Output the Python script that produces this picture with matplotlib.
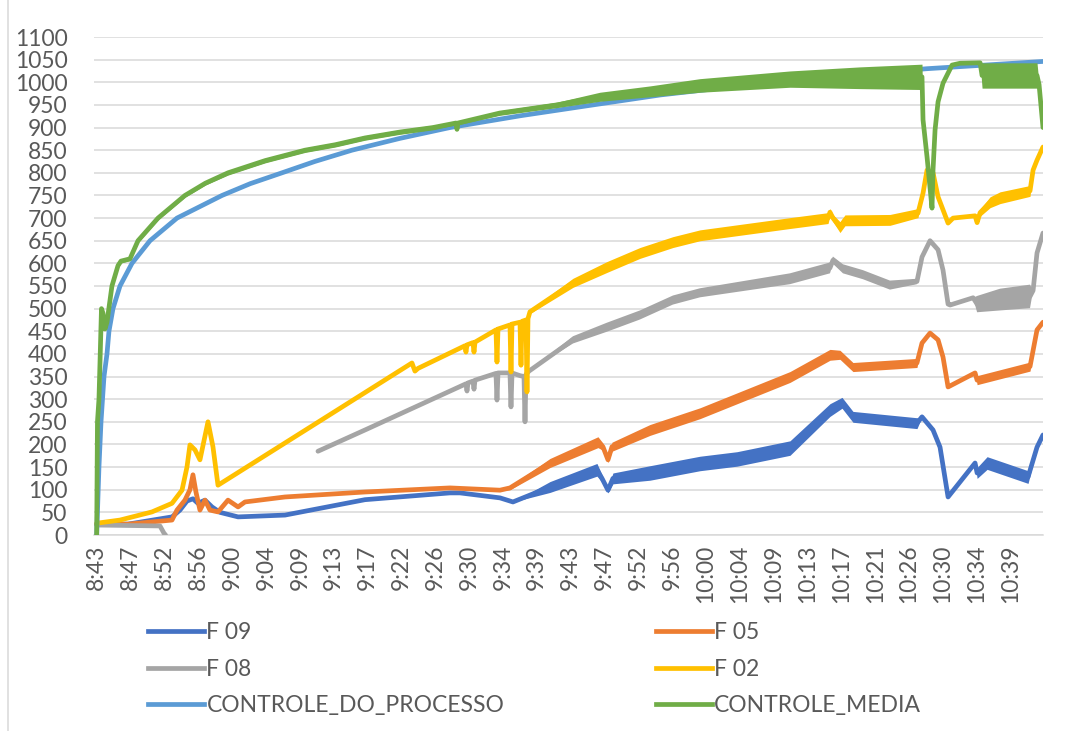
import numpy as np
import matplotlib
matplotlib.use("Agg")
import matplotlib.pyplot as plt
from matplotlib.lines import Line2D

plt.rcParams['font.family'] = ['Lato', 'DejaVu Sans']

# ---- time axis (minutes after 08:43) ----
time_labels = ['8:43', '8:47', '8:52', '8:56', '9:00', '9:04', '9:09', '9:13', '9:17',
               '9:22', '9:26', '9:30', '9:34', '9:39', '9:43', '9:47', '9:52', '9:56',
               '10:00', '10:04', '10:09', '10:13', '10:17', '10:21', '10:26', '10:30',
               '10:34', '10:39']
label_step_min = 4.3

# ---- F 09 ----
f09_t = [0, 3.98, 9.57, 10.58, 11.47, 12.23, 12.86, 13.76, 14.65, 15.66,
         17.96, 23.92, 34.08, 44.88, 46.15, 51.23, 52.88, 57.58, 63.55, 64.19,
         64.95, 65.58, 70.28, 76.64, 81.34, 88.07, 93.15, 94.68, 96.07, 104.20,
         104.84, 106.24, 107.13, 108.15, 111.58, 111.84, 113.11, 118.31, 119.45, 120.21]
f09_v = [24, 24, 40, 55, 75, 80, 70, 77, 62, 50,
         40, 44, 78, 93, 93, 82, 73, 106, 144, 125,
         99, 125, 137, 158, 168, 192, 276, 292, 261, 247,
         261, 232, 194, 84, 159, 137, 159, 128, 194, 221]
f09_jit = [0, 0, 0, 0, 0, 0, 0, 0, 0, 0,
           0, 0, 0, 0, 0, 0, 0, 12, 14, 8,
           6, 12, 16, 16, 16, 16, 14, 12, 12, 12,
           0, 0, 0, 0, 0, 12, 14, 14, 0, 0]

# ---- F 05 ----
f05_t = [0, 3.98, 9.57, 10.20, 11.21, 11.85, 12.23, 12.61, 13.12, 13.76,
         14.39, 15.41, 16.68, 17.96, 18.84, 23.92, 34.08, 44.88, 51.23, 52.50,
         57.58, 63.68, 64.31, 64.95, 65.46, 70.28, 76.64, 88.07, 93.15, 94.42,
         96.07, 104.20, 104.84, 105.86, 106.88, 107.51, 108.15, 111.58, 111.84, 118.56,
         119.45, 120.21]
f05_v = [24, 24, 33, 55, 77, 100, 133, 95, 55, 77,
         55, 51, 77, 62, 73, 84, 95, 104, 99, 104,
         159, 205, 195, 166, 195, 232, 269, 349, 398, 398,
         371, 380, 424, 446, 431, 393, 327, 358, 342, 372,
         453, 470]
f05_jit = [0, 0, 0, 0, 0, 0, 0, 0, 0, 0,
           0, 0, 0, 0, 0, 0, 0, 0, 0, 4,
           10, 12, 8, 6, 10, 12, 12, 12, 12, 10,
           10, 10, 0, 0, 0, 0, 0, 0, 10, 10,
           0, 0]

# ---- F 08 (no readings between 8:53 and 9:11) ----
f08_t = [0, 8.04, 8.55, 8.75, 19.0, 28.11, 34.34, 46.91, 47.04, 47.17,
         47.80, 47.93, 48.06, 50.72, 50.85, 50.98, 52.50, 52.63, 52.76, 53.77,
         54.28, 54.41, 54.54, 54.92, 60.50, 64.82, 69.01, 73.20, 76.64, 88.07,
         93.15, 93.53, 94.80, 97.34, 100.77, 104.20, 104.84, 105.86, 106.88, 107.51,
         108.15, 108.41, 111.33, 111.84, 114.75, 118.56, 118.95, 119.45, 120.21]
f08_v = [22, 20, 4, 0, np.nan, 185, 234, 334, 318, 336,
         340, 322, 342, 357, 298, 358, 358, 283, 358, 352,
         350, 250, 355, 362, 431, 459, 486, 519, 535, 566,
         590, 607, 588, 575, 552, 560, 614, 650, 630, 585,
         510, 508, 524, 510, 520, 527, 540, 623, 667]
f08_jit = [0, 0, 0, 0, 0, 0, 0, 0, 0, 0,
           0, 0, 0, 0, 0, 0, 0, 0, 0, 0,
           0, 0, 0, 0, 8, 10, 10, 10, 10, 12,
           12, 8, 10, 10, 10, 6, 0, 0, 0, 0,
           0, 0, 0, 18, 24, 26, 0, 0, 0]

# ---- F 02 ----
f02_t = [0, 2.96, 7.03, 9.57, 10.84, 11.47, 11.85, 12.49, 13.12, 14.14,
         14.77, 15.41, 40.05, 40.43, 40.82, 46.78, 46.91, 47.04, 47.80, 47.93,
         48.06, 50.72, 50.85, 50.98, 52.50, 52.63, 52.76, 53.77, 53.90, 54.03,
         54.54, 54.66, 54.79, 55.04, 60.50, 64.82, 69.01, 73.20, 76.64, 88.07,
         92.90, 93.15, 93.53, 94.42, 95.05, 100.77, 104.33, 104.97, 105.48, 106.24,
         106.88, 108.15, 108.79, 111.58, 111.84, 112.22, 113.49, 114.75, 118.56, 118.95,
         119.45, 120.21]
f02_v = [26, 33, 51, 70, 99, 150, 199, 188, 166, 250,
         195, 110, 380, 362, 368, 418, 404, 420, 425, 404,
         426, 453, 382, 455, 464, 360, 466, 470, 375, 472,
         475, 316, 478, 493, 557, 592, 623, 647, 662, 689,
         700, 713, 700, 680, 695, 696, 711, 755, 806, 800,
         747, 689, 700, 705, 690, 712, 735, 745, 760, 806,
         828, 857]
f02_jit = [0, 0, 0, 0, 0, 0, 0, 0, 0, 0,
           0, 0, 0, 0, 0, 0, 0, 0, 0, 0,
           0, 0, 0, 0, 0, 0, 0, 0, 0, 0,
           0, 0, 0, 4, 10, 12, 12, 12, 12, 12,
           12, 8, 8, 12, 12, 12, 10, 0, 0, 0,
           0, 0, 0, 0, 0, 8, 12, 13, 12, 0,
           0, 0]

# ---- CONTROLE_DO_PROCESSO ----
cdp_t = [0, 0.29, 0.55, 0.93, 1.31, 1.56, 2.07, 2.96, 4.48, 6.77,
         10.20, 15.92, 19.50, 23.54, 27.70, 32.43, 38.50, 44.88, 53.80, 63.04,
         71.60, 81.72, 93.20, 105.48, 120.21]
cdp_v = [0, 150, 250, 350, 400, 450, 500, 550, 600, 650,
         700, 750, 776, 800, 825, 850, 876, 900, 926, 950,
         972, 992, 1013, 1030, 1046]

# ---- CONTROLE_MEDIA ----
cm_t = [0, 0.10, 0.29, 0.42, 0.61, 0.80, 1.05, 1.31, 1.94, 2.71,
        3.09, 4.23, 4.61, 5.25, 7.79, 11.21, 13.80, 16.68, 21.40, 26.46,
        30.30, 34.08, 38.50, 42.72, 45.64, 45.77, 45.89, 51.20, 58.46, 63.93,
        70.30, 76.64, 88.07, 96.96, 104.84, 104.97, 105.48, 106.11, 106.24, 106.50,
        106.88, 107.51, 108.66, 109.68, 112.22, 112.47, 116.03, 119.45, 119.71, 120.21]
cm_v = [0, 250, 300, 380, 500, 490, 455, 470, 550, 595,
        605, 610, 625, 650, 700, 750, 777, 800, 827, 850,
        862, 877, 890, 900, 910, 896, 910, 932, 950, 968,
        980, 993, 1007, 1010, 1012, 917, 835, 722, 806, 895,
        957, 998, 1038, 1042, 1043, 1015, 1015, 1015, 995, 900]
cm_jit = [0, 0, 0, 0, 0, 0, 0, 0, 0, 4,
          4, 4, 4, 4, 4, 4, 4, 5, 5, 5,
          5, 5, 5, 5, 4, 0, 4, 5, 6, 10,
          12, 15, 18, 24, 28, 0, 0, 0, 0, 0,
          0, 0, 0, 0, 0, 28, 28, 28, 0, 0]

series = [
    ('F 09', f09_t, f09_v, f09_jit, '#4472C4'),
    ('F 05', f05_t, f05_v, f05_jit, '#ED7D31'),
    ('F 08', f08_t, f08_v, f08_jit, '#A5A5A5'),
    ('F 02', f02_t, f02_v, f02_jit, '#FFC000'),
    ('CONTROLE_DO_PROCESSO', cdp_t, cdp_v, None, '#5B9BD5'),
    ('CONTROLE_MEDIA', cm_t, cm_v, cm_jit, '#70AD47'),
]

W, H = 1071, 731
fig = plt.figure(figsize=(W / 100, H / 100), dpi=100)
fig.patch.set_facecolor('white')
ax = fig.add_axes([94 / W, 1 - 535 / H, (1043 - 94) / W, (535 - 37) / H])

text_color = '#595959'
grid_color = '#D9D9D9'
lw = 3.4

handles = {}
for i, (name, t, v, jit, color) in enumerate(series):
    t = np.asarray(t, float)
    v = np.asarray(v, float)
    z = 2 + i
    if jit is not None:
        j = np.asarray(jit, float)
        ax.fill_between(t, v - j, v + j, color=color, lw=0, zorder=z)
    line, = ax.plot(t, v, color=color, lw=lw, solid_capstyle='round',
                    solid_joinstyle='round', zorder=z)
    handles[name] = line

ax.set_xlim(-0.34, 120.21)
ax.set_ylim(0, 1100)
ax.set_yticks(np.arange(0, 1101, 50))
ax.set_xticks(np.arange(len(time_labels)) * label_step_min)
ax.set_xticklabels(time_labels, rotation=90)

ax.set_axisbelow(True)
ax.yaxis.grid(True, color=grid_color, lw=1.1)
for s in ['top', 'right', 'left']:
    ax.spines[s].set_visible(False)
ax.spines['bottom'].set_color(grid_color)
ax.spines['bottom'].set_linewidth(1.1)
ax.tick_params(axis='both', length=0, labelsize=16.5, labelcolor=text_color)
ax.tick_params(axis='y', pad=19)
ax.tick_params(axis='x', pad=7)

# legend laid out in rows of two
order = ['F 09', 'F 08', 'CONTROLE_DO_PROCESSO', 'F 05', 'F 02', 'CONTROLE_MEDIA']
leg_handles = [Line2D([], [], color=handles[n].get_color(), lw=lw) for n in order]
leg = fig.legend(leg_handles, order, loc='upper left', ncol=2,
                 bbox_to_anchor=(148 / W, 1 - 622 / H), frameon=False,
                 fontsize=16.5, labelcolor=text_color, handlelength=2.45,
                 handletextpad=0.1, columnspacing=6.6, labelspacing=0.68,
                 borderpad=0, borderaxespad=0)

# chart area border on the left
fig.add_artist(Line2D([7.5 / W, 7.5 / W], [0, 1], color=grid_color, lw=1.1))

fig.savefig('out.png', dpi=100)
